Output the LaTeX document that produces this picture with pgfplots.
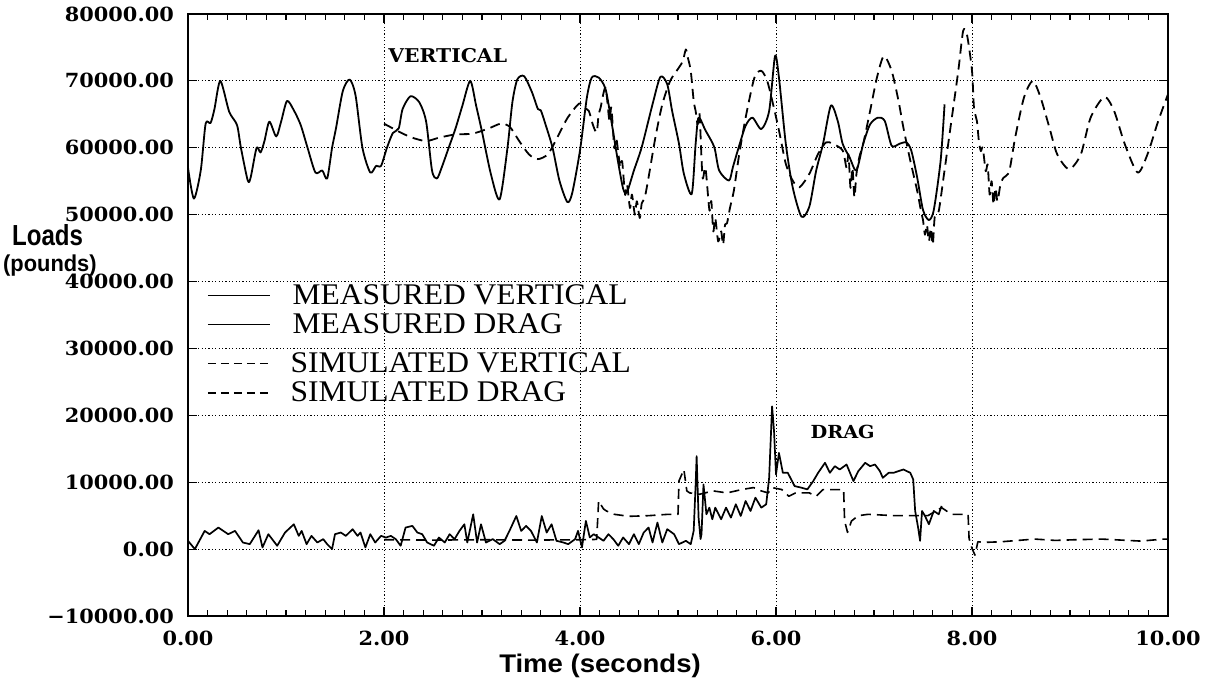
\documentclass[border=0pt]{standalone}
\usepackage{fontspec}
\usepackage{pgfplots}
\pgfplotsset{compat=1.18}
\setmainfont{DejaVu Serif}
\newfontfamily\tickfont{DejaVu Serif}[FakeStretch=1.07]
\newfontfamily\legfont{Liberation Serif}[FakeStretch=1.05]
\newfontfamily\loadsfont{Liberation Sans}[FakeStretch=0.83]
\newfontfamily\poundsfont{Liberation Sans}[FakeStretch=0.95]
\newfontfamily\timefont{Liberation Sans}[FakeStretch=1.08]
\newcommand\tickf{\tickfont\bfseries\fontsize{19.5pt}{20pt}\selectfont}
\newcommand\legf{\legfont\fontsize{30pt}{31pt}\selectfont}

\begin{document}
\begin{tikzpicture}
\path[use as bounding box] (0pt,0pt) rectangle (1212pt,682pt);
\begin{axis}[
  at={(188pt,66pt)}, anchor=south west,
  scale only axis, width=980pt, height=602pt,
  xmin=0, xmax=10, ymin=-10000, ymax=80000,
  xtick={0,2,4,6,8,10},
  xticklabels={0.00,2.00,4.00,6.00,8.00,10.00},
  minor x tick num=9,
  ytick={-10000,0,10000,20000,30000,40000,50000,60000,70000,80000},
  yticklabels={{−10000.00},{0.00},{10000.00},{20000.00},{30000.00},{40000.00},{50000.00},{60000.00},{70000.00},{80000.00}},
  scaled y ticks=false,
  grid=major,
  major grid style={black, line width=0.9pt, dash pattern=on 1.2pt off 2.2pt},
  axis line style={black, line width=1.4pt},
  major tick length=9pt, minor tick length=6pt,
  every tick/.style={black, line width=1.2pt},
  xticklabel style={font=\tickf, anchor=north, inner sep=0pt, yshift=-15pt},
  yticklabel style={font=\tickf, anchor=east, inner sep=0pt, xshift=-14pt},
  legend image code/.code={\draw[#1, line width=1.6pt] (0pt,0pt) -- (62pt,0pt);},
  legend style={draw=none, fill=none, inner sep=0pt, outer sep=0pt,
    row sep=7.5pt, column sep=22pt, font=\legf,
    nodes={inner sep=0pt, outer sep=0pt},
    at={(rel axis cs:0.0194,0.5498)}, anchor=north west},
  legend cell align=left,
]
% MEASURED VERTICAL
\addplot[black, line width=1.8pt, line join=round, smooth, tension=0.45] coordinates {
(0,57000) (0.06,52400) (0.13,56600) (0.18,63600) (0.23,63700) (0.27,65800) (0.33,70000) (0.42,65400) (0.50,63400) (0.54,60000) (0.61,55100) (0.64,55600) (0.70,60000) (0.74,59300) (0.78,61000) (0.83,63900) (0.90,61700) (0.95,63900) (1.01,67000) (1.08,65600) (1.15,63400) (1.22,60000) (1.30,56300) (1.37,56600) (1.42,55400) (1.47,60000) (1.51,62900) (1.58,68500) (1.65,70200) (1.71,67800) (1.78,60000) (1.86,56300) (1.92,57300) (1.97,57300) (2.03,60000) (2.09,62200) (2.15,62900) (2.19,65800) (2.27,67700) (2.36,66800) (2.43,63900) (2.49,56600) (2.54,55400) (2.59,57100) (2.66,60000) (2.73,62900) (2.80,66300) (2.88,70000) (2.94,66300) (3.00,62400) (3.09,56100) (3.18,52300) (3.26,60000) (3.31,66800) (3.36,70200) (3.43,70700) (3.51,68300) (3.57,65800) (3.60,65600) (3.65,63400) (3.72,60000) (3.79,55100) (3.87,51900) (3.92,53200) (4.00,59600) (4.07,67500) (4.12,70500) (4.19,70500) (4.26,68800) (4.32,64000) (4.38,58600) (4.44,53900) (4.48,53400) (4.55,56600) (4.63,60100) (4.74,66500) (4.82,70600) (4.89,69500) (4.94,65500) (5.01,60600) (5.06,56100) (5.14,53100) (5.18,60600) (5.21,64500) (5.28,62600) (5.37,60100) (5.42,56600) (5.52,55100) (5.56,57100) (5.62,60100) (5.69,63300) (5.76,64500) (5.85,62800) (5.93,65500) (5.99,73700) (6.03,70500) (6.10,60600) (6.17,54100) (6.26,49700) (6.34,51200) (6.41,56600) (6.48,60600) (6.56,66300) (6.63,64000) (6.68,60600) (6.75,58600) (6.82,56600) (6.89,60600) (6.96,63500) (7.04,64500) (7.11,64000) (7.18,60300) (7.26,60600) (7.33,60800) (7.38,59600) (7.44,55600) (7.50,50700) (7.56,49200) (7.61,50700) (7.68,58100) (7.72,66500)
};
\addlegendentry{MEASURED VERTICAL}
% MEASURED DRAG
\addplot[black, line width=1.7pt, line join=round] coordinates {
(0.00,1240) (0.07,0) (0.17,2720) (0.22,2230) (0.31,3220) (0.41,2230) (0.48,2720) (0.56,990) (0.63,740) (0.72,2820) (0.76,250) (0.82,2230) (0.91,500) (0.99,2480) (1.08,3710) (1.13,1980) (1.16,2720) (1.21,740) (1.26,1980) (1.32,990) (1.38,1490) (1.42,740) (1.47,0) (1.50,2230) (1.56,2480) (1.61,1980) (1.68,2970) (1.73,1980) (1.76,2480) (1.81,250) (1.86,2230) (1.91,990) (1.97,1980) (2.02,1730) (2.07,1980) (2.12,1490) (2.17,500) (2.22,3220) (2.29,3470) (2.34,2480) (2.39,2230) (2.44,990) (2.51,500) (2.56,1730) (2.62,990) (2.67,2230) (2.72,1490) (2.77,2720) (2.82,3710) (2.85,990) (2.91,5200) (2.95,990) (2.99,3710) (3.04,990) (3.11,1490) (3.18,740) (3.23,1240) (3.28,2720) (3.35,4950) (3.40,2720) (3.45,3470) (3.50,2720) (3.56,990) (3.61,4950) (3.66,2480) (3.71,3710) (3.76,1240) (3.83,990) (3.88,740) (3.95,1490) (3.98,2730) (4.02,250) (4.06,4220) (4.10,1740) (4.14,2230) (4.19,1740) (4.24,1240) (4.29,2230) (4.34,1490) (4.39,500) (4.44,1740) (4.50,740) (4.55,2230) (4.60,740) (4.65,2480) (4.70,3220) (4.74,990) (4.79,3970) (4.84,990) (4.89,2980) (4.96,2230) (5.01,740) (5.08,1240) (5.13,740) (5.16,2730) (5.18,9670) (5.19,13890) (5.21,4710) (5.23,1500) (5.24,2230) (5.26,9670) (5.29,5210) (5.32,6200) (5.35,4460) (5.38,6200) (5.44,4460) (5.49,6200) (5.54,4710) (5.59,6700) (5.64,4960) (5.69,7190) (5.74,5700) (5.79,7690) (5.85,6200) (5.90,6700) (5.93,10660) (5.96,21330) (5.98,17610) (6.00,11160) (6.03,14380) (6.07,11410) (6.12,11410) (6.19,9420) (6.26,9180) (6.32,8930) (6.38,10170) (6.43,11410) (6.50,12900) (6.55,11410) (6.60,12400) (6.65,11900) (6.72,12650) (6.79,10170) (6.84,11660) (6.91,12900) (6.96,12400) (7.01,12650) (7.06,11660) (7.09,10660) (7.15,11410) (7.20,11410) (7.25,11660) (7.30,11900) (7.37,11410) (7.40,10420) (7.42,5700) (7.45,3220) (7.47,1240) (7.49,5700) (7.52,4960) (7.56,3720) (7.61,5700) (7.66,5210) (7.69,6450)
};
\addlegendentry{MEASURED DRAG}
\node[font=\tickfont\bfseries\fontsize{19pt}{20pt}\selectfont, inner sep=0pt] at (axis cs:2.65,73850) {VERTICAL};
\node[font=\tickfont\bfseries\fontsize{18pt}{19pt}\selectfont, inner sep=0pt] at (axis cs:6.68,17500) {DRAG};
\end{axis}
\begin{axis}[
  at={(188pt,66pt)}, anchor=south west,
  scale only axis, width=980pt, height=602pt,
  xmin=0, xmax=10, ymin=-10000, ymax=80000,
  hide axis,
  legend image code/.code={\draw[#1, line width=1.6pt, dash pattern=on 8pt off 5pt] (0pt,0pt) -- (62pt,0pt);},
  legend style={draw=none, fill=none, inner sep=0pt, outer sep=0pt,
    row sep=8pt, column sep=20pt, font=\legf,
    nodes={inner sep=0pt, outer sep=0pt},
    at={(rel axis cs:0.0194,0.4374)}, anchor=north west},
  legend cell align=left,
]
% SIMULATED VERTICAL
\addplot[black, line width=1.8pt, line join=round, smooth, tension=0.45, dash pattern=on 10pt off 6pt] coordinates {
(2.00,63600) (2.09,62900) (2.18,62200) (2.29,61500) (2.43,61000) (2.56,61500) (2.73,62000) (2.90,62100) (3.07,62900) (3.19,63600) (3.28,63200) (3.38,61000) (3.48,59000) (3.57,58300) (3.67,59000) (3.75,61000) (3.87,64400) (3.99,66600) (4.04,66000) (4.09,65500) (4.13,63500) (4.17,62300) (4.19,65000) (4.21,66000) (4.26,69000) (4.30,64000) (4.32,66000) (4.35,60000) (4.37,61500) (4.41,57100) (4.43,58000) (4.46,53000) (4.48,54500) (4.51,51000) (4.53,53000) (4.56,50000) (4.58,52000) (4.61,49500) (4.63,51700) (4.66,52500) (4.70,55600) (4.77,61600) (4.84,66500) (4.92,70000) (5.01,72000) (5.05,73000) (5.08,74700) (5.10,73500) (5.13,71500) (5.16,67000) (5.18,65500) (5.20,63500) (5.22,65000) (5.25,55600) (5.28,57000) (5.32,50700) (5.34,52000) (5.36,47500) (5.38,49500) (5.41,46000) (5.44,47500) (5.46,45500) (5.48,48500) (5.50,48700) (5.53,51000) (5.57,53600) (5.62,58600) (5.69,64500) (5.78,70500) (5.85,71500) (5.91,70000) (5.97,66500) (6.03,62600) (6.10,57600) (6.17,55100) (6.24,54100) (6.34,56100) (6.43,59100) (6.51,60800) (6.58,60600) (6.68,59600) (6.72,57000) (6.74,59000) (6.76,54000) (6.78,57000) (6.80,52600) (6.82,56000) (6.85,58600) (6.89,60600) (6.96,65500) (7.03,70500) (7.10,73700) (7.18,71500) (7.25,67000) (7.30,63000) (7.37,58100) (7.44,53600) (7.48,50500) (7.50,49200) (7.52,47000) (7.54,48500) (7.56,46000) (7.58,48000) (7.60,45500) (7.62,49700) (7.66,50500) (7.71,55600) (7.78,63000) (7.86,71500) (7.91,77500) (7.95,76800) (8.00,71500) (8.02,66000) (8.05,64000) (8.07,61000) (8.09,59500) (8.11,60000) (8.14,56500) (8.16,57500) (8.18,53000) (8.20,55000) (8.22,51500) (8.24,54000) (8.26,52000) (8.29,54500) (8.32,55500) (8.38,56500) (8.44,61500) (8.53,67500) (8.62,70000) (8.70,67500) (8.79,63000) (8.87,59000) (8.99,56800) (9.11,59000) (9.21,64500) (9.35,67600) (9.45,65500) (9.56,60500) (9.69,56300) (9.79,59000) (9.90,64000) (10.00,68000)
};
\addlegendentry{SIMULATED VERTICAL}
% SIMULATED DRAG
\addplot[black, line width=1.6pt, line join=round, dash pattern=on 10pt off 6pt] coordinates {
(2.00,1400) (2.50,1350) (3.00,1400) (3.50,1350) (4.00,1400) (4.17,1450) (4.19,7200) (4.24,6000) (4.27,5700) (4.35,5200) (4.50,4900) (4.70,5000) (4.90,5200) (5.00,5200) (5.01,10200) (5.06,11900) (5.09,8700) (5.12,8400) (5.22,8200) (5.36,8700) (5.50,8400) (5.65,8900) (5.77,9200) (5.85,8700) (5.92,8400) (5.96,9200) (6.06,8900) (6.13,7900) (6.20,8400) (6.34,8400) (6.41,7900) (6.48,8900) (6.69,8900) (6.70,4200) (6.73,2500) (6.77,4200) (6.84,5000) (6.94,5200) (7.21,5000) (7.38,5000) (7.55,5000) (7.69,6200) (7.79,5200) (7.96,5200) (7.97,1600) (8.00,100) (8.03,-900) (8.06,1100) (8.12,1000) (8.30,1100) (8.64,1500) (8.85,1300) (9.05,1400) (9.32,1500) (9.52,1350) (9.72,1200) (9.96,1500) (10.00,1500)
};
\addlegendentry{SIMULATED DRAG}
\end{axis}
\node[anchor=base west, inner sep=0pt, font=\loadsfont\bfseries\fontsize{29pt}{30pt}\selectfont] at (12pt,436pt) {Loads};
\node[anchor=base west, inner sep=0pt, font=\poundsfont\bfseries\fontsize{23pt}{24pt}\selectfont] at (3pt,410pt) {(pounds)};
\node[anchor=base, inner sep=0pt, font=\timefont\bfseries\fontsize{25.5pt}{26pt}\selectfont] at (600pt,9pt) {Time (seconds)};
\end{tikzpicture}
\end{document}
